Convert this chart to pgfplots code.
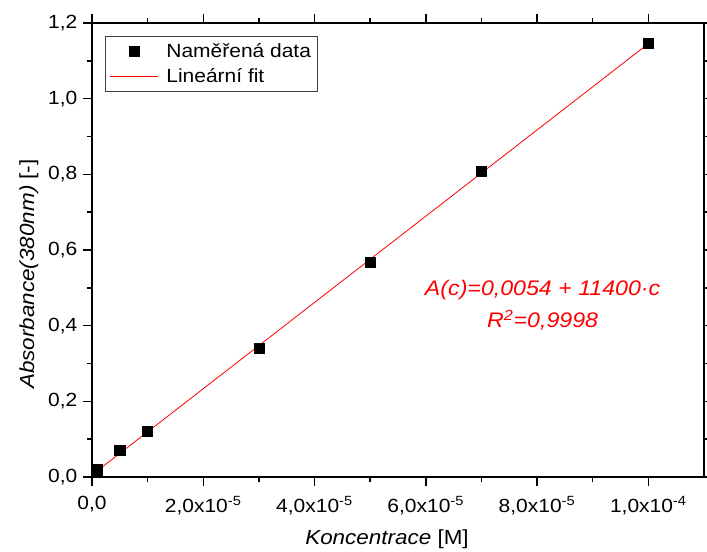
\documentclass[border=0pt]{standalone}
\usepackage{fontspec}
\setmainfont{Liberation Sans}[FakeStretch=1.1]
\usepackage{pgfplots}
\pgfplotsset{compat=1.18}
\pgfplotsset{
  marklegend/.style={legend image code/.code={\draw[##1,mark size=3.8pt] plot coordinates {(18pt,0pt)};\path (0pt,0pt) (40pt,0pt);}},
  linelegend/.style={legend image code/.code={\draw[##1] (0pt,0pt) -- (36pt,0pt);\path (40pt,0pt);}},
}
\begin{document}
\begin{tikzpicture}
\begin{axis}[
  at={(0,0)}, anchor=south west,
  scale only axis, width=459pt, height=340.5pt,
  xmin=0, xmax=1.1e-4, ymin=0, ymax=1.2,
  scaled x ticks=false, scaled y ticks=false,
  xtick={0,2e-5,4e-5,6e-5,8e-5,1e-4},
  xticklabels={{0,0},{2,0x10\textsuperscript{-5}},{4,0x10\textsuperscript{-5}},{6,0x10\textsuperscript{-5}},{8,0x10\textsuperscript{-5}},{1,0x10\textsuperscript{-4}}},
  ytick={0,0.2,0.4,0.6,0.8,1.0,1.2},
  yticklabels={{0,0},{0,2},{0,4},{0,6},{0,8},{1,0},{1,2}},
  minor x tick num=1, minor y tick num=1,
  tick align=outside,
  major tick length=6.5pt, minor tick length=3.8pt,
  axis line style={line width=1.1pt},
  every tick/.style={black, line width=1.1pt},
  tick label style={font=\fontsize{14.3}{16}\selectfont},
  xticklabel style={yshift=-4.5pt},
  yticklabel style={xshift=-1pt},
  xlabel={\textit{Koncentrace} [M]},
  ylabel={\textit{Absorbance(380nm)} [-]},
  label style={font=\fontsize{15.3}{17}\selectfont},
  xlabel style={at={(axis description cs:0.482,-0.137)}, anchor=center},
  ylabel style={at={(axis description cs:-0.103,0.447)}, anchor=center},
  legend style={at={(axis description cs:0.0216,0.972)}, anchor=north west,
    draw=black!75, line width=0.6pt, font=\fontsize{14.3}{16}\selectfont,
    inner xsep=3pt, inner ysep=3.5pt, row sep=2.5pt},
  legend cell align=left,
  clip=false,
]
\addplot[only marks, mark=square*, mark size=3.8pt, color=black, marklegend]
  coordinates {(1e-6,0.019) (5e-6,0.070) (1e-5,0.120) (3e-5,0.340) (5e-5,0.568) (7e-5,0.808) (1e-4,1.146)};
\addlegendentry{Naměřená data}
\addplot[red, line width=0.6pt, no marks, linelegend]
  coordinates {(0,0.0054) (1e-4,1.1454)};
\addlegendentry{Lineární fit}
\node[red, font=\fontsize{15.8}{17}\selectfont\itshape, anchor=center] at (axis cs:8.1e-5,0.493) {A(c)=0,0054 + 11400·c};
\node[red, font=\fontsize{15.8}{17}\selectfont\itshape, anchor=center] at (axis cs:8.1e-5,0.414) {R\textsuperscript{2}=0,9998};
\end{axis}
\pgfresetboundingbox
\useasboundingbox (-69pt,-56.25pt) rectangle (461.25pt,357.75pt);
\end{tikzpicture}
\end{document}
